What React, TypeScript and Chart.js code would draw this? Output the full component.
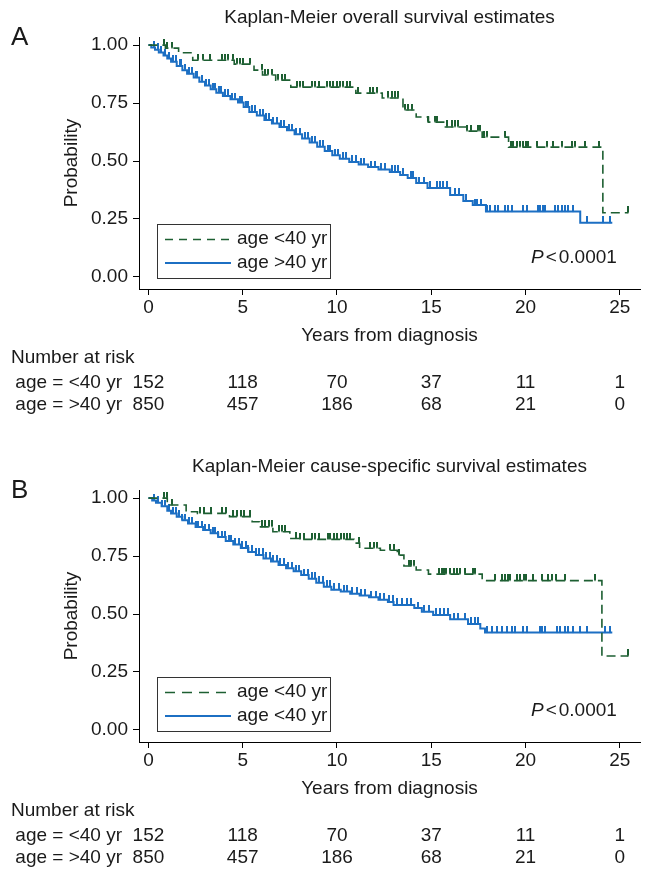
import React, { useEffect, useRef } from "react";
import { Chart, registerables } from "chart.js";

Chart.register(...registerables);

const FONT = '"Liberation Sans", Arial, Helvetica, sans-serif';
const TEXT = "#1a1a1a";
const GREEN = "#1d5f32";
const BLUE = "#1c6fc3";

const xTicks = [0, 5, 10, 15, 20, 25];
const yTicks = [0, 0.25, 0.5, 0.75, 1];
const riskTimes = [0, 5, 10, 15, 20, 25];
const riskYoung = [152, 118, 70, 37, 11, 1];
const riskOld = [850, 457, 186, 68, 21, 0];

// ---------- Panel A: overall survival ----------
const greenStepsA: [number, number][] = [
  [0, 1], [0.9, 0.987], [1.6, 0.967], [2.35, 0.935], [4.55, 0.918], [5.6, 0.892],
  [6.05, 0.871], [6.75, 0.849], [7.55, 0.819], [11.0, 0.793], [12.4, 0.772],
  [13.5, 0.72], [14.2, 0.69], [14.85, 0.668], [15.7, 0.647], [16.9, 0.629],
  [17.7, 0.603], [19.1, 0.56], [24.1, 0.277], [25.45, 0.277],
];
const blueStepsA: [number, number][] = [
  [0, 1], [0.15, 0.99], [0.35, 0.98], [0.55, 0.968], [0.8, 0.955], [1.0, 0.942],
  [1.2, 0.928], [1.5, 0.91], [1.8, 0.892], [2.05, 0.877], [2.4, 0.86], [2.7, 0.842],
  [3.0, 0.826], [3.3, 0.81], [3.6, 0.795], [3.95, 0.781], [4.35, 0.767], [4.75, 0.752],
  [5.05, 0.733], [5.35, 0.712], [5.75, 0.696], [6.15, 0.677], [6.55, 0.662],
  [6.95, 0.647], [7.35, 0.633], [7.75, 0.616], [8.15, 0.597], [8.55, 0.58],
  [8.95, 0.562], [9.35, 0.543], [9.75, 0.525], [10.15, 0.51], [10.65, 0.496],
  [11.15, 0.485], [11.65, 0.474], [12.2, 0.463], [12.8, 0.453], [13.35, 0.44],
  [13.75, 0.427], [14.2, 0.405], [14.8, 0.384], [16.0, 0.354], [16.7, 0.328],
  [17.2, 0.31], [17.9, 0.282], [22.9, 0.234], [24.6, 0.234],
];
const greenCensorA = [
  0.8, 0.97, 1.24, 2.65, 2.92, 3.27, 3.89, 4.07, 4.24, 4.51, 4.69, 4.86, 5.04, 5.39,
  6.01, 6.19, 6.36, 6.54, 6.89, 7.07, 7.25, 7.87, 8.04, 8.22, 8.66, 8.84, 9.02, 9.46,
  9.63, 9.81, 9.99, 10.16, 10.34, 10.52, 10.69, 11.14, 11.76, 11.93, 12.11, 12.73,
  12.9, 13.08, 13.26, 13.61, 13.79, 13.96, 14.85, 15.2, 15.29, 15.82, 16.09, 16.26,
  16.44, 16.92, 17.09, 17.5, 17.59, 17.8, 17.94, 18.91, 19.21, 19.35, 19.53, 19.71,
  19.89, 20.03, 20.15, 20.59, 21.13, 21.48, 21.92, 22.45, 22.63, 23.16, 23.87, 25.45,
];
const blueCensorA = [
  0.3, 0.5, 0.65, 0.9, 1.1, 1.3, 1.45, 1.65, 1.75, 1.95, 2.15, 2.3, 2.5, 2.6, 2.85,
  3.05, 3.2, 3.4, 3.55, 3.75, 3.85, 4.05, 4.2, 4.45, 4.6, 4.85, 4.95, 5.2, 5.3, 5.5,
  5.65, 5.9, 6.05, 6.25, 6.4, 6.6, 6.8, 7.05, 7.2, 7.45, 7.6, 7.85, 8.05, 8.3, 8.45,
  8.7, 8.85, 9.1, 9.25, 9.5, 9.65, 9.9, 10.05, 10.3, 10.5, 10.8, 11.0, 11.3, 11.45,
  11.8, 12.0, 12.35, 12.55, 12.9, 13.1, 13.25, 13.5, 13.9, 14.05, 14.35, 14.6, 14.95,
  15.3, 15.45, 15.6, 15.85, 16.25, 16.45, 16.85, 17.3, 17.45, 17.65, 17.94, 18.1,
  18.38, 18.56, 18.91, 19.09, 19.27, 19.88, 20.06, 20.68, 20.77, 20.94, 21.03, 21.56,
  21.74, 21.92, 22.1, 22.27, 22.54, 23.25, 24.13, 24.48,
];

// ---------- Panel B: cause-specific survival ----------
const greenStepsB: [number, number][] = [
  [0, 1], [1.0, 0.97], [2.0, 0.941], [2.6, 0.934], [4.3, 0.92], [5.5, 0.898],
  [5.9, 0.876], [6.6, 0.855], [7.5, 0.826], [8.0, 0.822], [10.9, 0.806],
  [11.2, 0.784], [12.3, 0.775], [13.2, 0.754], [13.55, 0.707], [14.2, 0.69],
  [14.85, 0.672], [17.7, 0.644], [24.05, 0.319], [25.45, 0.319],
];
const blueStepsB: [number, number][] = [
  [0, 1], [0.2, 0.99], [0.4, 0.98], [0.7, 0.965], [1.0, 0.945], [1.2, 0.934],
  [1.5, 0.92], [1.8, 0.905], [2.1, 0.89], [2.5, 0.875], [2.9, 0.862], [3.3, 0.848],
  [3.7, 0.832], [4.1, 0.815], [4.5, 0.8], [4.9, 0.785], [5.3, 0.768], [5.7, 0.755],
  [6.1, 0.74], [6.5, 0.727], [6.9, 0.712], [7.3, 0.698], [7.7, 0.684], [8.1, 0.668],
  [8.5, 0.652], [8.9, 0.635], [9.3, 0.618], [9.7, 0.605], [10.2, 0.597], [10.7, 0.588],
  [11.2, 0.58], [11.7, 0.572], [12.2, 0.562], [12.7, 0.552], [13.0, 0.539],
  [14.1, 0.526], [14.5, 0.51], [15.1, 0.496], [16.0, 0.477], [16.95, 0.457],
  [17.6, 0.438], [17.85, 0.42], [24.6, 0.42],
];
const greenCensorB = [
  0.8, 0.97, 1.24, 2.75, 2.95, 3.3, 3.9, 4.1, 4.5, 4.7, 4.9, 5.05, 5.4, 6.0, 6.2, 6.4,
  6.55, 6.9, 7.1, 7.25, 7.85, 8.05, 8.25, 8.65, 8.85, 9.05, 9.5, 9.65, 9.85, 10.0,
  10.2, 10.35, 10.55, 10.7, 11.15, 11.75, 11.95, 12.1, 12.8, 13.0, 13.3, 13.8, 13.95,
  14.1, 15.4, 15.55, 15.7, 15.8, 16.0, 16.2, 16.35, 16.55, 16.8, 17.2, 17.3, 18.4,
  18.75, 18.9, 19.05, 19.2, 19.55, 19.7, 19.9, 20.05, 20.4, 20.85, 21.2, 21.4, 21.6,
  22.1, 23.7, 25.45,
];
const blueCensorB = [
  0.3, 0.5, 0.7, 0.9, 1.1, 1.3, 1.45, 1.6, 1.8, 1.95, 2.15, 2.3, 2.5, 2.65, 2.85, 3.0,
  3.2, 3.4, 3.55, 3.7, 3.9, 4.05, 4.25, 4.4, 4.6, 4.8, 4.95, 5.15, 5.3, 5.5, 5.7, 5.85,
  6.05, 6.25, 6.45, 6.6, 6.8, 7.0, 7.2, 7.4, 7.6, 7.8, 8.0, 8.25, 8.45, 8.65, 8.85,
  9.05, 9.25, 9.45, 9.65, 9.85, 10.1, 10.35, 10.55, 10.8, 11.05, 11.3, 11.5, 11.8,
  12.05, 12.3, 12.5, 12.75, 12.95, 13.2, 13.45, 13.7, 13.9, 14.3, 14.6, 14.9, 15.25,
  15.45, 15.65, 15.9, 16.2, 16.4, 16.8, 17.1, 17.3, 17.5, 17.94, 18.2, 18.47, 18.74,
  19.0, 19.27, 19.44, 19.88, 20.06, 20.77, 20.86, 21.03, 21.65, 21.83, 22.1, 22.27,
  22.54, 22.89, 23.25, 24.22, 24.48,
];

function survAt(steps: [number, number][], t: number): number {
  let s = steps[0][1];
  for (const [x, y] of steps) {
    if (x <= t) s = y;
    else break;
  }
  return s;
}

function tickImage(color: string): HTMLCanvasElement {
  const c = document.createElement("canvas");
  c.width = 2;
  c.height = 13;
  const g = c.getContext("2d")!;
  g.fillStyle = color;
  g.fillRect(0, 0, 2, 6.5);
  return c;
}

type PanelProps = {
  height: number;
  letter: string;
  title: string;
  titleY: number;
  greenSteps: [number, number][];
  blueSteps: [number, number][];
  greenCensor: number[];
  blueCensor: number[];
  legendLabels: string[];
  legendDash: number[];
};

function Panel(p: PanelProps) {
  const ref = useRef<HTMLCanvasElement>(null);
  useEffect(() => {
    const canvas = ref.current!;
    const H = p.height;
    const axisH = 60;
    const extras = {
      id: "extras",
      afterDraw(chart: any) {
        const { ctx, chartArea, scales } = chart;
        ctx.save();
        ctx.fillStyle = TEXT;
        ctx.textBaseline = "middle";
        // title
        ctx.font = `19px ${FONT}`;
        ctx.textAlign = "center";
        ctx.fillText(p.title, (chartArea.left + chartArea.right) / 2, p.titleY);
        // panel letter
        ctx.font = `26px ${FONT}`;
        ctx.textAlign = "left";
        ctx.fillText(p.letter, 11, 38);
        // legend box
        ctx.strokeStyle = "#333";
        ctx.lineWidth = 1;
        ctx.strokeRect(157.5, 224.5, 173, 54);
        ctx.beginPath();
        ctx.setLineDash(p.legendDash);
        ctx.strokeStyle = GREEN;
        ctx.lineWidth = 1.6;
        ctx.moveTo(165, 239.5);
        ctx.lineTo(231, 239.5);
        ctx.stroke();
        ctx.beginPath();
        ctx.setLineDash([]);
        ctx.strokeStyle = BLUE;
        ctx.lineWidth = 2;
        ctx.moveTo(165, 263);
        ctx.lineTo(231, 263);
        ctx.stroke();
        ctx.font = `19px ${FONT}`;
        ctx.fillText(p.legendLabels[0], 237, 239);
        ctx.fillText(p.legendLabels[1], 237, 263);
        // P value
        ctx.font = `italic 19px ${FONT}`;
        ctx.fillText("P", 531, 258);
        let px = 531 + ctx.measureText("P").width + 2;
        ctx.font = `19px ${FONT}`;
        ctx.fillText("<", px, 258);
        px += ctx.measureText("<").width + 2;
        ctx.fillText("0.0001", px, 258);
        // number at risk table
        ctx.fillText("Number at risk", 11, 358);
        ctx.textAlign = "right";
        ctx.fillText("age = <40 yr", 122, 383);
        ctx.fillText("age = >40 yr", 122, 405);
        ctx.textAlign = "center";
        riskTimes.forEach((t, i) => {
          const x = scales.x.getPixelForValue(t);
          ctx.fillText(String(riskYoung[i]), x, 383);
          ctx.fillText(String(riskOld[i]), x, 405);
        });
        ctx.restore();
      },
    };
    const chart = new Chart(canvas, {
      type: "line",
      data: {
        datasets: [
          {
            data: p.greenSteps.map(([x, y]) => ({ x, y })),
            stepped: "before",
            borderColor: GREEN,
            borderWidth: 1.6,
            borderDash: [9, 5],
            pointRadius: 0,
            fill: false,
          },
          {
            data: p.blueSteps.map(([x, y]) => ({ x, y })),
            stepped: "before",
            borderColor: BLUE,
            borderWidth: 2,
            pointRadius: 0,
            fill: false,
          },
          {
            data: p.greenCensor.map((t) => ({ x: t, y: survAt(p.greenSteps, t) })),
            showLine: false,
            pointStyle: tickImage(GREEN),
            pointRadius: 3,
          },
          {
            data: p.blueCensor.map((t) => ({ x: t, y: survAt(p.blueSteps, t) })),
            showLine: false,
            pointStyle: tickImage(BLUE),
            pointRadius: 3,
          },
        ],
      } as any,
      options: {
        animation: false,
        responsive: false,
        maintainAspectRatio: false,
        layout: { padding: { left: 0, top: 37, right: 5, bottom: H - 289 - axisH } },
        plugins: { legend: { display: false }, tooltip: { enabled: false }, title: { display: false } },
        scales: {
          x: {
            type: "linear",
            min: -0.5,
            max: 26.07,
            afterBuildTicks: (s: any) => {
              s.ticks = xTicks.map((v) => ({ value: v }));
            },
            afterFit: (s: any) => {
              s.height = axisH;
            },
            grid: { drawOnChartArea: false, drawTicks: true, tickLength: 6, tickColor: "#000", color: "#000" },
            border: { display: true, color: "#000", width: 1 },
            ticks: { font: { family: FONT, size: 19 }, color: TEXT, padding: 1, maxRotation: 0, autoSkip: false },
            title: {
              display: true,
              text: "Years from diagnosis",
              font: { family: FONT, size: 19 },
              color: TEXT,
              padding: { top: 0, bottom: 2 },
            },
          },
          y: {
            type: "linear",
            min: -0.052,
            max: 1.035,
            afterBuildTicks: (s: any) => {
              s.ticks = yTicks.map((v) => ({ value: v }));
            },
            afterFit: (s: any) => {
              s.width = 139;
            },
            grid: { drawOnChartArea: false, drawTicks: true, tickLength: 6, tickColor: "#000", color: "#000" },
            border: { display: true, color: "#000", width: 1 },
            ticks: {
              font: { family: FONT, size: 19 },
              color: TEXT,
              padding: 5,
              callback: (v: any) => Number(v).toFixed(2),
            },
            title: {
              display: true,
              text: "Probability",
              font: { family: FONT, size: 19 },
              color: TEXT,
              padding: { top: 60, bottom: 0 },
            },
          },
        },
      } as any,
      plugins: [extras],
    });
    return () => chart.destroy();
  }, []);
  return (
    <canvas
      ref={ref}
      width={645}
      height={p.height}
      style={{ display: "block", width: 645, height: p.height }}
    />
  );
}

export default function App() {
  return (
    <div style={{ position: "absolute", left: 0, top: 0, width: 645, height: 870, background: "#fff" }}>
      <Panel
        height={453}
        letter="A"
        title="Kaplan-Meier overall survival estimates"
        titleY={18}
        greenSteps={greenStepsA}
        blueSteps={blueStepsA}
        greenCensor={greenCensorA}
        blueCensor={blueCensorA}
        legendLabels={["age <40 yr", "age >40 yr"]}
        legendDash={[8, 6]}
      />
      <Panel
        height={417}
        letter="B"
        title="Kaplan-Meier cause-specific survival estimates"
        titleY={14}
        greenSteps={greenStepsB}
        blueSteps={blueStepsB}
        greenCensor={greenCensorB}
        blueCensor={blueCensorB}
        legendLabels={["age <40 yr", "age <40 yr"]}
        legendDash={[10, 7]}
      />
    </div>
  );
}
